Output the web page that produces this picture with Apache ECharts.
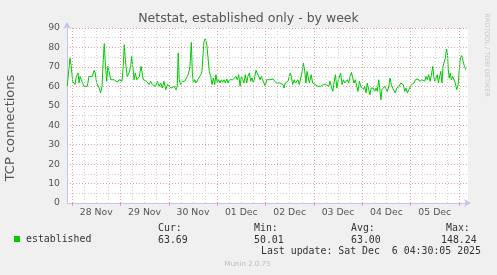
<!DOCTYPE html>
<html><head><meta charset="utf-8">
<script src="https://cdn.jsdelivr.net/npm/echarts@6/dist/echarts.min.js"></script>
<style>html,body{margin:0;padding:0;background:#F0F0F0}#c{width:497px;height:275px}</style>
</head><body><div id="c"></div>
<script>
// ---- data ----
const startTime = '2025-11-27T21:30:00Z';
const spanHours = 199;
const hoursFromStart = [
0.1,1.0,1.5,2.1,2.8,3.5,4.0,4.6,5.5,6.0,
6.5,7.1,7.8,8.4,9.3,10.1,10.9,11.8,12.6,13.4,
14.0,14.7,15.4,16.0,16.7,17.4,18.0,18.5,19.0,19.7,
20.3,21.0,21.7,22.5,23.3,24.2,25.0,25.8,26.7,27.3,
27.9,28.4,29.1,29.9,30.8,31.6,32.1,32.8,33.3,33.9,
34.6,35.2,35.9,36.7,37.4,37.9,38.6,39.4,40.2,40.8,
41.5,42.3,43.2,44.0,44.8,45.7,46.5,47.3,48.1,49.0,
49.9,50.7,51.6,52.4,53.2,54.1,54.7,55.2,55.7,56.4,
57.1,57.7,58.4,59.1,59.7,60.4,61.0,61.7,62.2,62.7,
63.4,64.0,64.9,65.7,66.4,67.0,67.5,68.0,68.6,69.3,
70.0,70.6,71.3,72.0,72.6,73.3,73.9,74.6,75.3,75.9,
76.6,77.3,77.9,78.6,79.3,79.9,80.6,81.4,82.2,83.0,
83.9,84.5,85.2,85.9,86.5,87.2,87.8,88.5,89.2,89.8,
90.5,91.2,91.8,92.5,93.2,93.8,94.4,95.1,95.8,96.4,
97.1,97.8,98.4,99.1,
99.8,100.6,101.4,102.2,103.1,103.9,104.7,105.6,106.4,107.2,
107.7,108.3,109.0,109.7,110.3,110.8,111.3,112.0,112.7,113.3,
114.0,114.6,115.3,116.0,116.6,117.3,118.0,118.6,119.1,119.6,
120.3,120.8,121.2,121.9,122.6,123.2,123.9,124.6,125.2,125.9,
126.6,127.2,127.9,128.5,129.2,129.9,130.5,131.2,131.9,132.5,
133.2,133.9,134.5,135.1,135.8,136.5,137.1,137.8,138.5,139.1,
139.8,140.5,141.1,141.8,142.4,143.1,143.8,144.4,145.1,145.8,
146.4,147.1,147.7,148.4,149.0,149.7,
150.4,150.9,151.5,152.0,152.7,153.4,154.0,154.7,155.2,155.8,
156.3,157.0,157.7,158.3,159.0,159.7,160.3,161.0,161.6,162.3,
162.9,163.6,164.3,164.9,165.6,166.3,166.9,167.6,168.2,168.9,
169.6,170.2,170.9,171.6,172.2,172.9,173.6,174.2,174.9,175.5,
176.2,176.8,177.5,178.2,178.8,179.5,180.2,180.8,181.5,182.0,
182.5,183.1,183.8,184.3,184.8,185.5,186.1,186.6,187.3,187.8,
188.3,188.8,189.2,189.7,190.2,190.7,191.4,192.1,192.7,193.4,
194.1,194.7,195.2,195.9,196.5,197.2,197.9
];
const connections = [
60,61,74.6,70.3,62.6,63.4,60.9,65.1,66.9,61.7,
65.1,63.4,64.3,60,59.7,60,65.1,66,65.1,68.2,
66.9,61.7,62.6,59.1,56.6,60,73.7,82,72,62.6,
70.3,66.9,63.4,62.6,63.4,62.6,62.1,63.4,62.6,62.6,
70.3,81.4,72,65.1,66.9,70.3,75.4,68.6,63.4,66.9,
63.4,62.6,65.1,70.3,71.1,63.4,64.3,62.6,63.4,60.9,
62.6,60.9,61.7,60,62.6,60,61.7,59.1,62.6,58.3,
60.9,60,59.1,58.6,60,58.3,60,77.2,63.4,60.9,
62.6,61.7,62.6,63.4,65.1,66.9,70.3,82.6,66.9,61.7,
63.4,61.7,63.4,64.3,66,67.7,76.3,83.2,84.4,82,
74.6,67.7,65.1,60.9,64.3,60.9,66,61.7,63.4,61.7,
63.4,62.1,63.4,61.7,63.8,61.7,63.4,62.6,63.4,62.6,
65.1,63.4,66,60,65.1,63.4,61.7,66,61.7,65.1,
66.9,62.6,64.3,61.7,65.1,68.2,68.6,65.1,63.4,65.1,
63.4,62.6,60,63.4,
62.6,63.4,62.6,63.8,63.4,61.7,62.6,61.7,62.1,60.9,
59.1,61.7,60.9,62.6,65.1,66.9,65.1,60.9,63.4,61.7,
62.6,63.4,60.9,64.3,66.9,72,67.7,61.7,67.7,65.1,
61.7,60.9,66,61.7,62.6,60.9,61.7,60,60.9,60,
59.1,60.9,60,60.9,61.7,60,62.6,60,57.4,61.7,
66,59.1,62.6,63.4,66.9,60.9,63.4,61.7,62.6,63.4,
61.7,65.1,67.2,64.3,61.7,63.4,60,57.4,62.6,60,
59.1,58.3,60,56.6,61.7,58.3,
55.7,59.1,58.3,59.1,57.4,59.1,57.4,63.4,59.1,53.1,
58.3,57.4,60,59.1,57.4,60,64.3,60.9,59.1,60,
56.6,59.1,58.3,60,61.7,62.6,60.9,57.4,59.1,56.6,
58.3,59.1,60.9,60,61.7,63.4,62.6,63.8,62.6,62.6,
63.4,63.1,62.6,65.1,63.4,66,62.6,65.5,70.3,65.1,
62.6,61.7,66,61.7,64.3,67.7,61.7,70.3,70.3,74.6,
79.2,77.2,68.6,64.3,66.9,63.4,65.1,64.3,61.7,58.3,
60.9,68.6,74.6,75.8,75.8,70.3,68.6
];
const dayDates = ['2025-11-28','2025-11-29','2025-11-30','2025-12-01','2025-12-02','2025-12-03','2025-12-04','2025-12-05','2025-12-06'];
const dayLabels = ['28 Nov','29 Nov','30 Nov','01 Dec','02 Dec','03 Dec','04 Dec','05 Dec'];
const yMin = 0, yMax = 90, yStep = 10;
const seriesName = 'established';
const statNames = ['Cur:','Min:','Avg:','Max:'];
const statValues = ['63.69','50.01','63.00','148.24'];
const lastUpdate = 'Last update: Sat Dec  6 04:30:05 2025';
const titleText = 'Netstat, established only - by week';
const yName = 'TCP connections';
const sideText = 'RRDTOOL / TOBI OETIKER';
const footerText = 'Munin 2.0.75';

// ---- build ----
const H = 3600e3;
const t0 = Date.parse(startTime);
const tEnd = t0 + spanHours * H;
const data = hoursFromStart.map((h, i) => [t0 + h * H, connections[i]]);
const midnights = dayDates.map(d => Date.parse(d + 'T00:00:00Z'));
const noons = dayLabels.map((l, i) => midnights[i] + 12 * H);
const MAJOR = '#E3A0A0', MINOR = '#D2D2D2', AXIS = '#C4C4EE';
const vLines = [];
for (let t = midnights[0]; t <= tEnd; t += 6 * H) {
  const isMajor = midnights.indexOf(t) >= 0;
  vLines.push({ xAxis: t, lineStyle: { color: isMajor ? MAJOR : MINOR, type: [1, 2], width: 1 } });
}
const SANS = 'DejaVu Sans', MONO = 'DejaVu Sans Mono';
const graphics = [];
const statX = [158, 254, 351, 446];
const valX = [158, 254, 351, 441];
statNames.forEach((n, i) => {
  graphics.push({ type: 'text', x: statX[i], y: 228, silent: true,
    style: { text: n, fill: '#333', fontFamily: MONO, fontSize: 9.9, verticalAlign: 'middle' } });
  graphics.push({ type: 'text', x: valX[i], y: 240, silent: true,
    style: { text: statValues[i], fill: '#333', fontFamily: MONO, fontSize: 9.9, verticalAlign: 'middle' } });
});
graphics.push({ type: 'text', x: 261, y: 251.5, silent: true,
  style: { text: lastUpdate, fill: '#333', fontFamily: MONO, fontSize: 9.9, verticalAlign: 'middle' } });
graphics.push({ type: 'text', x: 247.5, y: 264, silent: true,
  style: { text: footerText, fill: '#BBBBBB', fontFamily: SANS, fontSize: 7, align: 'center', verticalAlign: 'middle' } });
graphics.push({ type: 'text', x: 487, y: 55, rotation: -Math.PI / 2, silent: true,
  style: { text: sideText, fill: '#C8C8C8', fontFamily: SANS, fontSize: 6.5, align: 'center', verticalAlign: 'middle' } });
graphics.push({ type: 'text', x: 11, y: 128, rotation: Math.PI / 2, silent: true,
  style: { text: yName, fill: '#555', fontFamily: SANS, fontSize: 13, align: 'center', verticalAlign: 'middle' } });

const chart = echarts.init(document.getElementById('c'), null, { renderer: 'canvas' });
chart.setOption({
  backgroundColor: '#F0F0F0',
  animation: false,
  title: { text: titleText, left: 'center', top: 12, padding: 0,
    textStyle: { fontFamily: SANS, fontSize: 12.5, fontWeight: 'normal', color: '#555' } },
  legend: { data: [{ name: seriesName, icon: 'rect' }], left: 14, top: 234, padding: 0,
    itemWidth: 6, itemHeight: 6, selectedMode: false,
    textStyle: { fontFamily: MONO, fontSize: 9.9, color: '#333', padding: [0, 0, 0, 1] } },
  grid: { left: 67, right: 29, top: 28, bottom: 72, show: true, backgroundColor: '#FFFFFF', borderWidth: 0 },
  xAxis: {
    type: 'value', min: t0, max: tEnd,
    axisLine: { show: true, lineStyle: { color: AXIS, width: 1 }, symbol: ['none', 'arrow'], symbolSize: [6, 7], symbolOffset: [0, 3] },
    axisTick: { show: true, customValues: midnights, length: 3, lineStyle: { color: MAJOR } },
    axisLabel: { show: true, customValues: noons, margin: 5, fontFamily: SANS, fontSize: 9.3, color: '#555',
      formatter: v => dayLabels[Math.round((v - noons[0]) / (24 * H))] },
    splitLine: { show: false }
  },
  yAxis: {
    type: 'value', min: yMin, max: yMax, interval: yStep,
    axisLine: { show: true, lineStyle: { color: AXIS, width: 1 }, symbol: ['none', 'arrow'], symbolSize: [6, 7], symbolOffset: [0, 6] },
    axisTick: { show: false },
    axisLabel: { margin: 7, fontFamily: SANS, fontSize: 9.3, color: '#555' },
    splitLine: { show: true, lineStyle: { color: MAJOR, type: [1, 2], width: 1 } },
    minorTick: { show: false, splitNumber: 2 },
    minorSplitLine: { show: true, lineStyle: { color: MINOR, type: [1, 2], width: 1 } }
  },
  series: [
    { type: 'line', name: 'grid', data: [], silent: true, z: 1,
      markLine: { silent: true, symbol: 'none', label: { show: false }, animation: false, data: vLines } },
    { type: 'line', name: seriesName, data: data, showSymbol: false, symbol: 'none', z: 3,
      lineStyle: { color: '#00CC00', width: 1 }, itemStyle: { color: '#00CC00' } }
  ],
  graphic: graphics
});
</script></body></html>
